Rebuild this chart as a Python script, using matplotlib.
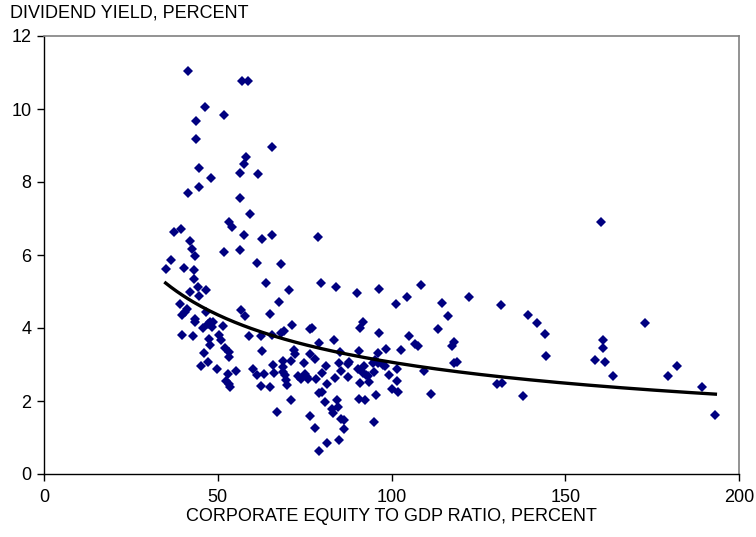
import matplotlib
matplotlib.use("Agg")
import matplotlib.pyplot as plt
import numpy as np

plt.rcParams['font.family'] = ['Liberation Sans', 'DejaVu Sans']

# corporate equity / GDP (percent) and dividend yield (percent)
equity_gdp = [
    41.5, 57.1, 58.8, 46.2, 43.8, 51.8, 43.6, 65.6, 58.0, 57.5, 44.6, 56.4, 61.6, 48.1, 44.5, 41.5, 56.5,
    59.2, 53.1, 54.2, 37.5, 39.4, 57.6, 62.7, 65.6, 41.9, 42.5, 43.4, 51.9, 56.3, 36.5, 35.0, 40.2,
    61.4, 68.1, 43.3, 43.1, 64.0, 70.5, 44.3, 46.5, 42.1, 44.5, 67.7, 39.1, 41.2, 40.5, 39.6, 56.8,
    57.8, 64.9, 43.4, 43.4, 46.6, 47.9, 47.1, 48.7, 45.8, 48.4, 51.6, 71.4, 39.7, 43.0, 50.4, 50.8,
    47.4, 47.7, 52.0, 46.1, 53.2, 53.1, 59.1, 62.8, 62.4, 65.6, 68.2, 69.2, 71.9, 72.1, 76.5, 76.5,
    45.2, 47.3, 49.8, 52.9, 55.2, 52.3, 53.3, 53.5, 60.1, 61.4, 63.4, 62.4, 65.0, 65.8, 66.1, 68.7,
    68.8, 68.8, 69.4, 69.7, 69.9, 71.2, 74.8, 73.1, 74.0, 75.1, 75.7, 71.2, 67.0, 76.5,
    78.8, 79.6, 84.0, 90.2, 96.4, 108.4, 104.5, 101.3, 114.4, 116.3, 113.4, 118.0, 117.5, 77.1, 91.7,
    90.8, 96.5, 83.4, 79.1, 105.0, 106.8, 107.6, 98.5, 102.6, 90.7, 96.1, 85.3, 77.9,
    76.0, 78.2, 79.9, 81.2, 84.9, 87.4, 87.8, 85.4, 83.7, 87.6, 81.4, 79.2, 79.9, 81.0, 84.2, 84.5,
    82.9, 83.3, 77.9, 85.4, 86.2, 86.2, 84.9, 81.4, 79.1, 90.4, 92.0, 91.8, 92.6, 93.3, 94.8, 95.3,
    96.2, 97.5, 98.1, 95.0, 91.0, 93.6, 99.2, 101.5, 101.5, 100.0, 101.9, 95.5, 90.6, 92.5, 95.0,
    109.3, 111.3, 118.1, 118.9,
    160.4, 122.3, 131.5, 139.2, 141.8, 144.3, 144.5, 130.3, 131.7, 137.8, 158.6, 160.9, 160.8, 161.4,
    163.7, 172.9, 179.7, 182.1, 189.4, 193.2,
]
div_yield = [
    11.03, 10.77, 10.77, 10.05, 9.68, 9.84, 9.19, 8.96, 8.68, 8.48, 8.38, 8.25, 8.22, 8.11, 7.86, 7.69, 7.57,
    7.12, 6.91, 6.76, 6.64, 6.70, 6.56, 6.44, 6.54, 6.37, 6.17, 5.98, 6.09, 6.13, 5.85, 5.62, 5.64,
    5.79, 5.74, 5.58, 5.33, 5.22, 5.05, 5.11, 5.05, 4.99, 4.89, 4.72, 4.66, 4.51, 4.43, 4.36, 4.48,
    4.33, 4.37, 4.26, 4.16, 4.43, 4.16, 4.11, 4.17, 4.01, 4.03, 4.06, 4.08, 3.81, 3.77, 3.81, 3.66,
    3.69, 3.53, 3.44, 3.31, 3.33, 3.21, 3.79, 3.37, 3.78, 3.82, 3.86, 3.92, 3.39, 3.29, 3.97, 3.29,
    2.96, 3.07, 2.89, 2.74, 2.83, 2.54, 2.46, 2.37, 2.87, 2.71, 2.73, 2.41, 2.37, 2.98, 2.78, 3.09,
    2.94, 2.79, 2.71, 2.58, 2.45, 3.10, 3.03, 2.68, 2.59, 2.73, 2.65, 2.02, 1.70, 1.58,
    6.50, 5.22, 5.12, 4.95, 5.06, 5.19, 4.85, 4.66, 4.68, 4.33, 3.97, 3.62, 3.51, 4.00, 4.17,
    3.99, 3.85, 3.68, 3.59, 3.79, 3.57, 3.51, 3.42, 3.39, 3.36, 3.31, 3.33, 3.16,
    2.59, 2.60, 2.78, 2.96, 3.03, 3.01, 3.08, 2.82, 2.64, 2.67, 2.47, 2.21, 2.25, 1.98, 2.03, 1.84,
    1.79, 1.66, 1.27, 1.51, 1.47, 1.24, 0.93, 0.84, 0.62, 2.88, 2.97, 2.76, 2.72, 2.68, 3.03, 3.12,
    3.05, 3.00, 2.95, 2.80, 2.50, 2.53, 2.70, 2.88, 2.55, 2.32, 2.25, 2.16, 2.05, 2.02, 1.42,
    2.82, 2.18, 3.03, 3.08,
    6.91, 4.85, 4.62, 4.35, 4.13, 3.84, 3.22, 2.47, 2.48, 2.15, 3.12, 3.66, 3.44, 3.07,
    2.68, 4.13, 2.68, 2.95, 2.38, 1.62,
]

x = np.asarray(equity_gdp)
y = np.asarray(div_yield)

# power trend line  y = a * x^b, fitted in log space
b, lna = np.polyfit(np.log(x), np.log(y), 1)
xt = np.linspace(x.min(), x.max(), 200)
yt = np.exp(lna) * xt ** b

fig = plt.figure(figsize=(7.56, 5.37), dpi=100)
ax = fig.add_axes([44/756, 63/537, 695/756, 438/537])

ax.plot(x, y, 'D', color='#000080', markersize=4.6, markeredgewidth=0, zorder=3)
ax.plot(xt, yt, 'k-', linewidth=2.4, zorder=4)

fs = 13
ax.set_xlim(0, 200)
ax.set_ylim(0, 12)
ax.set_xticks([0, 50, 100, 150, 200])
ax.set_yticks([0, 2, 4, 6, 8, 10, 12])
ax.tick_params(direction='out', length=5, width=1, labelsize=fs, colors='black')
ax.tick_params(axis='x', pad=6)
ax.tick_params(axis='y', pad=4)

for side in ['top', 'right']:
    ax.spines[side].set_color('#808080')
    ax.spines[side].set_linewidth(1.2)
for side in ['left', 'bottom']:
    ax.spines[side].set_color('black')
    ax.spines[side].set_linewidth(1.0)

ax.set_xlabel('CORPORATE EQUITY TO GDP RATIO, PERCENT', fontsize=fs, labelpad=1)
fig.text(10/756, 1 - 13/537, 'DIVIDEND YIELD, PERCENT', fontsize=fs, va='center', ha='left')

fig.savefig('out.png', dpi=100)
